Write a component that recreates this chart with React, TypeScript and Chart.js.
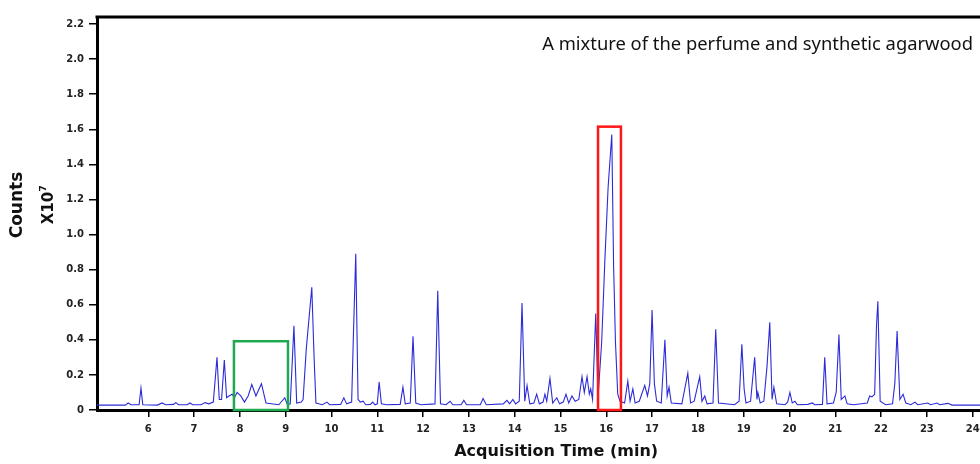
import React, { useEffect, useRef } from "react";
import { Chart, registerables } from "chart.js";

Chart.register(...registerables);

// Retention time (min) and abundance (counts x10^7)
const retentionTimes = [
  4.88, 5.5, 5.56, 5.62, 5.8, 5.84, 5.88, 6.2, 6.3, 6.38,
  6.55, 6.6, 6.66, 6.85, 6.91, 6.97, 7.15, 7.24, 7.32, 7.42,
  7.5, 7.55, 7.6, 7.66, 7.71, 7.76, 7.83, 7.88, 7.94, 8.02,
  8.1, 8.18, 8.26, 8.35, 8.47, 8.57, 8.85, 8.98, 9.04, 9.1,
  9.18, 9.24, 9.34, 9.38, 9.45, 9.57, 9.62, 9.66, 9.8, 9.9,
  9.96, 10.2, 10.27, 10.33, 10.44, 10.48, 10.53, 10.58, 10.63, 10.69,
  10.75, 10.85, 10.9, 10.95, 11.0, 11.04, 11.09, 11.2, 11.5, 11.56,
  11.61, 11.72, 11.78, 11.84, 11.95, 12.26, 12.32, 12.38, 12.5, 12.59,
  12.65, 12.83, 12.89, 12.95, 13.25, 13.31, 13.38, 13.75, 13.83, 13.89,
  13.96, 14.02, 14.1, 14.16, 14.22, 14.27, 14.33, 14.42, 14.48, 14.54,
  14.62, 14.66, 14.7, 14.77, 14.83, 14.92, 14.98, 15.06, 15.12, 15.18,
  15.25, 15.32, 15.4, 15.47, 15.52, 15.58, 15.63, 15.66, 15.7, 15.77,
  15.82, 15.9, 15.97, 16.04, 16.12, 16.16, 16.2, 16.25, 16.3, 16.4,
  16.47, 16.52, 16.58, 16.63, 16.72, 16.84, 16.9, 16.95, 17.0, 17.05,
  17.1, 17.2, 17.28, 17.33, 17.37, 17.42, 17.65, 17.78, 17.84, 17.92,
  18.04, 18.09, 18.15, 18.2, 18.33, 18.39, 18.45, 18.8, 18.9, 18.96,
  19.01, 19.05, 19.15, 19.24, 19.29, 19.31, 19.36, 19.44, 19.51, 19.57,
  19.62, 19.66, 19.72, 19.9, 19.96, 20.01, 20.06, 20.12, 20.17, 20.4,
  20.5, 20.55, 20.72, 20.77, 20.82, 20.96, 21.02, 21.08, 21.13, 21.21,
  21.26, 21.4, 21.7, 21.75, 21.8, 21.86, 21.9, 21.93, 21.98, 22.1,
  22.25, 22.3, 22.35, 22.41, 22.48, 22.54, 22.65, 22.74, 22.8, 23.02,
  23.08, 23.22, 23.28, 23.46, 23.55, 24.16,
];

const counts = [
  0.028, 0.028, 0.04, 0.03, 0.03, 0.125, 0.03, 0.028, 0.04, 0.03,
  0.032, 0.042, 0.03, 0.03, 0.04, 0.03, 0.03, 0.042, 0.035, 0.045,
  0.3, 0.06, 0.06, 0.285, 0.07, 0.08, 0.09, 0.07, 0.1, 0.08,
  0.045, 0.08, 0.145, 0.08, 0.15, 0.04, 0.03, 0.07, 0.03, 0.035,
  0.48, 0.04, 0.045, 0.06, 0.35, 0.7, 0.3, 0.04, 0.03, 0.045,
  0.03, 0.032, 0.07, 0.035, 0.045, 0.44, 0.89, 0.06, 0.045, 0.05,
  0.03, 0.032, 0.045, 0.03, 0.035, 0.16, 0.035, 0.03, 0.032, 0.13,
  0.035, 0.04, 0.42, 0.04, 0.03, 0.035, 0.68, 0.035, 0.03, 0.05,
  0.03, 0.03, 0.055, 0.03, 0.03, 0.065, 0.03, 0.035, 0.055, 0.035,
  0.06, 0.035, 0.05, 0.61, 0.05, 0.14, 0.035, 0.04, 0.09, 0.035,
  0.045, 0.09, 0.05, 0.18, 0.04, 0.07, 0.035, 0.045, 0.09, 0.04,
  0.08, 0.05, 0.06, 0.19, 0.1, 0.19, 0.09, 0.12, 0.06, 0.55,
  0.07, 0.39, 0.86, 1.27, 1.57, 0.82, 0.39, 0.09, 0.05, 0.04,
  0.165, 0.05, 0.12, 0.04, 0.05, 0.14, 0.08, 0.15, 0.57, 0.15,
  0.05, 0.04, 0.4, 0.08, 0.13, 0.04, 0.035, 0.21, 0.04, 0.05,
  0.19, 0.05, 0.08, 0.035, 0.04, 0.46, 0.04, 0.03, 0.05, 0.375,
  0.12, 0.04, 0.05, 0.3, 0.06, 0.1, 0.04, 0.05, 0.25, 0.5,
  0.06, 0.13, 0.035, 0.03, 0.045, 0.1, 0.04, 0.05, 0.03, 0.032,
  0.04, 0.03, 0.032, 0.3, 0.035, 0.04, 0.1, 0.43, 0.06, 0.08,
  0.035, 0.03, 0.04, 0.08, 0.075, 0.09, 0.48, 0.62, 0.05, 0.03,
  0.035, 0.15, 0.45, 0.06, 0.09, 0.04, 0.03, 0.045, 0.03, 0.04,
  0.03, 0.04, 0.03, 0.038, 0.028, 0.028,
];

const xTickValues = [6, 7, 8, 9, 10, 11, 12, 13, 14, 15, 16, 17, 18, 19, 20, 21, 22, 23, 24];
const yTickValues = [0, 0.2, 0.4, 0.6, 0.8, 1.0, 1.2, 1.4, 1.6, 1.8, 2.0, 2.2];
const xRange = [4.88, 24.16];
const yRange = [0, 2.24];

const chartTitle = "A mixture of the perfume and synthetic agarwood";
const xAxisTitle = "Acquisition Time (min)";
const yAxisTitle = "Counts";
const yAxisUnit = "X10";
const yAxisExponent = "7";

// Highlighted regions: time from / to (min), top (counts x10^7)
const highlightFrom = [7.87, 15.82];
const highlightTo = [9.05, 16.32];
const highlightTop = [0.392, 1.615];

const boxColors = ["#1fa84f", "#ff1616"];

const overlayPlugin = {
  id: "overlay",
  afterDatasetsDraw(chart: any) {
    const { ctx, chartArea, scales } = chart;
    const xs = scales.x;
    const ys = scales.y;
    ctx.save();
    for (let i = 0; i < highlightFrom.length; i++) {
      const x0 = xs.getPixelForValue(highlightFrom[i]);
      const x1 = xs.getPixelForValue(highlightTo[i]);
      const y0 = ys.getPixelForValue(highlightTop[i]);
      const y1 = ys.getPixelForValue(0);
      ctx.strokeStyle = boxColors[i];
      ctx.lineWidth = 2.5;
      ctx.strokeRect(x0, y0, x1 - x0, y1 - y0);
    }
    // top frame line
    ctx.strokeStyle = "#000";
    ctx.lineWidth = 3;
    ctx.beginPath();
    ctx.moveTo(chartArea.left - 1.5, chartArea.top);
    ctx.lineTo(chartArea.right, chartArea.top);
    ctx.stroke();

    // chart title inside plot
    ctx.fillStyle = "#111";
    ctx.font = '16px "Noto Sans"';
    const w = ctx.measureText(chartTitle).width;
    const size = (16 * 431) / w;
    ctx.font = `${size.toFixed(2)}px "Noto Sans"`;
    ctx.textAlign = "right";
    ctx.textBaseline = "alphabetic";
    ctx.fillText(chartTitle, chartArea.right - 7, chartArea.top + 33);
    ctx.restore();
  },
  afterDraw(chart: any) {
    const { ctx, chartArea } = chart;
    ctx.save();
    ctx.fillStyle = "#111";
    // x-axis title
    ctx.font = 'bold 16px "DejaVu Sans"';
    ctx.textAlign = "center";
    ctx.textBaseline = "middle";
    ctx.fillText(xAxisTitle, chartArea.left + (chartArea.right - chartArea.left) * 0.52, chartArea.bottom + 42);

    // y-axis title (rotated)
    ctx.translate(18, chartArea.top + 188);
    ctx.rotate(-Math.PI / 2);
    ctx.font = 'bold 17px "DejaVu Sans"';
    ctx.textAlign = "center";
    ctx.textBaseline = "middle";
    ctx.fillText(yAxisTitle, 0, 0);
    ctx.restore();

    ctx.save();
    ctx.fillStyle = "#111";
    ctx.translate(53, chartArea.top + 188);
    ctx.rotate(-Math.PI / 2);
    ctx.font = 'bold 15px "DejaVu Sans"';
    ctx.textBaseline = "alphabetic";
    const uw = ctx.measureText(yAxisUnit).width;
    ctx.font = 'bold 9px "DejaVu Sans"';
    const ew = ctx.measureText(yAxisExponent).width;
    const start = -(uw + ew) / 2;
    ctx.font = 'bold 15px "DejaVu Sans"';
    ctx.textAlign = "left";
    ctx.fillText(yAxisUnit, start, 0);
    ctx.font = 'bold 9px "DejaVu Sans"';
    ctx.fillText(yAxisExponent, start + uw + 0.5, -7);
    ctx.restore();
  },
};

export default function App() {
  const canvasRef = useRef<HTMLCanvasElement | null>(null);

  useEffect(() => {
    if (!canvasRef.current) return;
    const data = retentionTimes.map((t, i) => ({ x: t, y: counts[i] }));
    const tickFont = { family: "DejaVu Sans", size: 10, weight: "bold" as const };
    const chart = new Chart(canvasRef.current, {
      type: "line",
      data: {
        datasets: [
          {
            data,
            borderColor: "#2d2bd8",
            borderWidth: 1.1,
            pointRadius: 0,
            tension: 0,
            fill: false,
          },
        ],
      },
      options: {
        animation: false,
        responsive: false,
        maintainAspectRatio: false,
        events: [],
        layout: { padding: { left: 0, right: 0, top: 17, bottom: 0 } },
        plugins: { legend: { display: false }, tooltip: { enabled: false }, title: { display: false } },
        scales: {
          x: {
            type: "linear",
            min: xRange[0],
            max: xRange[1],
            afterBuildTicks: (s: any) => {
              s.ticks = xTickValues.map((v) => ({ value: v }));
            },
            afterFit: (s: any) => {
              s.height = 54;
              s.paddingRight = 0;
              s.paddingLeft = 0;
            },
            ticks: {
              color: "#222",
              font: tickFont,
              padding: 6,
              maxRotation: 0,
              autoSkip: false,
              callback: (v: any) => String(v),
            },
            grid: {
              display: true,
              drawOnChartArea: false,
              drawTicks: true,
              tickLength: 7,
              color: "#000",
              lineWidth: 1.5,
            },
            border: { display: true, color: "#000", width: 3 },
          },
          y: {
            type: "linear",
            min: yRange[0],
            max: yRange[1],
            afterBuildTicks: (s: any) => {
              s.ticks = yTickValues.map((v) => ({ value: v }));
            },
            afterFit: (s: any) => {
              s.width = 97;
              s.paddingTop = 0;
              s.paddingBottom = 0;
            },
            ticks: {
              color: "#222",
              font: tickFont,
              padding: 5,
              autoSkip: false,
              callback: (v: any) => (v === 0 ? "0" : Number(v).toFixed(1)),
            },
            grid: {
              display: true,
              drawOnChartArea: false,
              drawTicks: true,
              tickLength: 8,
              color: "#000",
              lineWidth: 1.5,
            },
            border: { display: true, color: "#000", width: 3 },
          },
        },
      },
      plugins: [overlayPlugin],
    });
    return () => chart.destroy();
  }, []);

  return (
    <div style={{ position: "fixed", left: 0, top: 0, width: 980, height: 464, background: "#fff" }}>
      <canvas ref={canvasRef} width={980} height={464} style={{ display: "block", width: 980, height: 464 }} />
    </div>
  );
}
